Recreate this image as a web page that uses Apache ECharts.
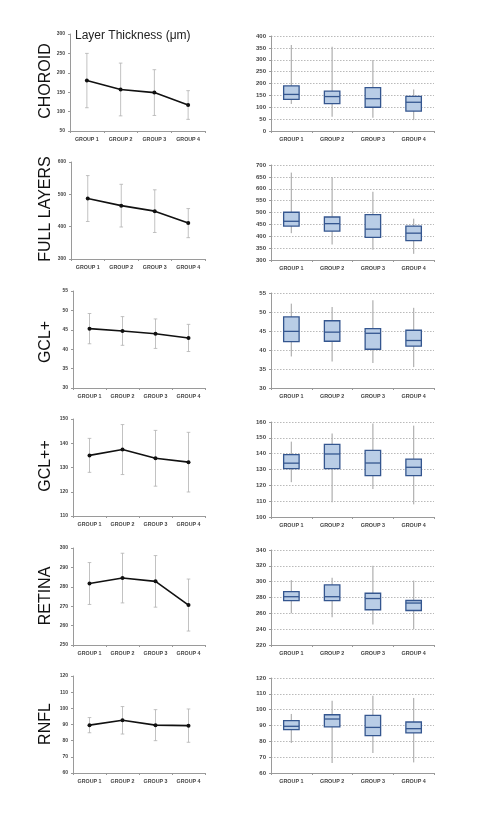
<!DOCTYPE html>
<html>
<head>
<meta charset="utf-8">
<title>Layer Thickness</title>
<script src="https://cdn.jsdelivr.net/npm/echarts@6.0.0/dist/echarts.min.js"></script>
<style>
	html, body { margin: 0; padding: 0; background: #fff; }
	#main { width: 484px; height: 814px; }
</style>
</head>
<body>
<div id="main"></div>
<script>
	var groups = ['GROUP 1', 'GROUP 2', 'GROUP 3', 'GROUP 4'];
	var layerNames = ['CHOROID', 'FULL LAYERS', 'GCL+', 'GCL++', 'RETINA', 'RNFL'];

//均值 ± 标准差 (左列)
	var choroidMean = [180, 157, 149, 117];
	var choroidSd = [70, 68, 59, 37];
	var fullMean = [487, 465, 448, 411];
	var fullSd = [71, 66, 66, 45];
	var gclMean = [45.3, 44.7, 44.0, 42.9];
	var gclSd = [3.9, 3.7, 3.8, 3.5];
	var gcl2Mean = [135, 137.4, 133.8, 132.2];
	var gcl2Sd = [7, 10.3, 11.5, 12.3];
	var retinaMean = [281.7, 284.5, 282.8, 270.6];
	var retinaSd = [10.8, 12.8, 13.3, 13.4];
	var rnflMean = [89.6, 92.6, 89.6, 89.3];
	var rnflSd = [4.7, 8.5, 9.6, 10.3];

//箱线图 [min, q1, median, q3, max] (右列)
	var choroidBox = [[114, 133, 154, 190, 362], [60, 115, 145, 168, 355], [56, 100, 136, 183, 299], [46, 84, 121, 146, 175]];
	var fullBox = [[413, 443, 463, 501, 668], [365, 422, 453, 481, 648], [343, 395, 430, 491, 587], [326, 382, 413, 443, 474]];
	var gclBox = [[38.3, 42.2, 44.9, 48.7, 52.2], [37, 42.3, 44.7, 47.7, 51.3], [36.6, 40.2, 44.4, 45.6, 53.1], [35.5, 41, 42.5, 45.2, 51.1]];
	var gcl2Box = [[122, 130.5, 134, 139.4, 147.6], [109.3, 130.5, 139.8, 145.9, 152.8], [117.7, 126.1, 134.1, 142.1, 159], [108, 126.1, 131.4, 136.6, 157.7]];
	var retinaBox = [[260, 276, 281, 287.5, 302], [255, 276, 281, 296, 305], [246, 264.5, 278.7, 285.4, 320], [240, 263.6, 273, 276.2, 301.4]];
	var rnflBox = [[79, 87.4, 89.5, 93.1, 97.3], [66.3, 89.1, 94.1, 96.8, 105.7], [72.6, 83.6, 88.8, 96.4, 108.8], [66.7, 85.3, 88, 92.2, 107.4]];

//坐标轴刻度
	var leftMin = [50, 300, 30, 110, 250, 60];
	var leftMax = [300, 600, 55, 150, 300, 120];
	var leftStep = [50, 100, 5, 10, 10, 10];
	var rightMin = [0, 300, 30, 100, 220, 60];
	var rightMax = [400, 700, 55, 160, 340, 120];
	var rightStep = [50, 50, 5, 10, 20, 10];

	var meanRows = [choroidMean, fullMean, gclMean, gcl2Mean, retinaMean, rnflMean];
	var sdRows = [choroidSd, fullSd, gclSd, gcl2Sd, retinaSd, rnflSd];
	var boxRows = [choroidBox, fullBox, gclBox, gcl2Box, retinaBox, rnflBox];

//布局
	var leftX = [70, 71, 73, 73, 73, 73];
	var leftTop = [34, 162, 291, 419, 548, 676];
	var rightTop = [36, 165, 293, 422, 550, 678];
	var labelY = [81, 209, 342, 466, 596, 724];

	var fontName = '"Liberation Sans", Arial, sans-serif';

	function catAxis(idx, size) {
		return {
			type: 'category',
			gridIndex: idx,
			data: groups,
			axisLine: { lineStyle: { color: '#9a9a9a', width: 1 } },
			axisTick: { show: true, length: 2, lineStyle: { color: '#9a9a9a' } },
			axisLabel: { interval: 0, margin: 6, fontSize: size, fontWeight: 'bold', color: '#444', fontFamily: fontName },
			splitLine: { show: false }
		};
	}

	function valAxis(idx, min, max, step, grid, size) {
		return {
			type: 'value',
			gridIndex: idx,
			min: min,
			max: max,
			interval: step,
			axisLine: { show: true, lineStyle: { color: '#9a9a9a', width: 1 } },
			axisTick: { show: true, length: 2, lineStyle: { color: '#9a9a9a' } },
			axisLabel: { margin: 5, fontSize: size, fontWeight: 'bold', color: '#444', fontFamily: fontName },
			splitLine: { show: grid, lineStyle: { color: '#9c9c9c', width: 0.7, type: [1.5, 1.5] } }
		};
	}

//误差线
	function errorItem(params, api) {
		var top = api.coord([api.value(0), api.value(2)]);
		var bot = api.coord([api.value(0), api.value(1)]);
		var cap = 1.8;
		var st = { stroke: '#b2b2b2', lineWidth: 0.8 };
		return {
			type: 'group',
			children: [
				{ type: 'line', shape: { x1: top[0], y1: top[1], x2: bot[0], y2: bot[1] }, style: st },
				{ type: 'line', shape: { x1: top[0] - cap, y1: top[1], x2: top[0] + cap, y2: top[1] }, style: st },
				{ type: 'line', shape: { x1: bot[0] - cap, y1: bot[1], x2: bot[0] + cap, y2: bot[1] }, style: st }
			]
		};
	}

//箱体
	function boxItem(params, api) {
		var x = api.value(0);
		var pMin = api.coord([x, api.value(1)]);
		var pQ1 = api.coord([x, api.value(2)]);
		var pMed = api.coord([x, api.value(3)]);
		var pQ3 = api.coord([x, api.value(4)]);
		var pMax = api.coord([x, api.value(5)]);
		var w = api.size([1, 0])[0] * 0.38;
		var cx = pMed[0];
		return {
			type: 'group',
			children: [
				{ type: 'line', shape: { x1: cx, y1: pMax[1], x2: cx, y2: pMin[1] }, style: { stroke: '#b5b5b5', lineWidth: 1.3 } },
				{ type: 'rect', shape: { x: cx - w / 2, y: pQ3[1], width: w, height: pQ1[1] - pQ3[1] }, style: { fill: '#b9cde6', stroke: '#34568f', lineWidth: 1.3 } },
				{ type: 'line', shape: { x1: cx - w / 2, y1: pMed[1], x2: cx + w / 2, y2: pMed[1] }, style: { stroke: '#34568f', lineWidth: 1.3 } }
			]
		};
	}

	var grids = [], xAxes = [], yAxes = [], series = [], texts = [];

	for (var i = 0; i < layerNames.length; i++) {
		var li = 2 * i, ri = 2 * i + 1;

		grids.push({ left: leftX[i], top: leftTop[i], width: 205 - leftX[i], height: 97 });
		xAxes.push(catAxis(li, 5.3));
		yAxes.push(valAxis(li, leftMin[i], leftMax[i], leftStep[i], false, 5));

		grids.push({ left: 271, top: rightTop[i], width: 163, height: 95 });
		xAxes.push(catAxis(ri, 5.4));
		yAxes.push(valAxis(ri, rightMin[i], rightMax[i], rightStep[i], true, 6));

		var errData = [];
		var boxData = [];
		for (var j = 0; j < groups.length; j++) {
			errData.push([j, meanRows[i][j] - sdRows[i][j], meanRows[i][j] + sdRows[i][j]]);
			var b = boxRows[i][j];
			boxData.push([j, b[0], b[1], b[2], b[3], b[4]]);
		}

		series.push({
			type: 'custom',
			xAxisIndex: li,
			yAxisIndex: li,
			renderItem: errorItem,
			encode: { x: 0, y: [1, 2] },
			data: errData,
			z: 2
		});
		series.push({
			type: 'line',
			xAxisIndex: li,
			yAxisIndex: li,
			data: meanRows[i],
			symbol: 'circle',
			symbolSize: 4,
			lineStyle: { color: '#111', width: 1.6 },
			itemStyle: { color: '#111' },
			z: 3
		});
		series.push({
			type: 'custom',
			xAxisIndex: ri,
			yAxisIndex: ri,
			renderItem: boxItem,
			encode: { x: 0, y: [1, 2, 3, 4, 5] },
			data: boxData,
			z: 2
		});

		texts.push({
			type: 'text',
			x: 46,
			y: labelY[i],
			rotation: Math.PI / 2,
			style: {
				text: layerNames[i],
				font: '16px ' + fontName,
				fill: '#111',
				textAlign: 'center',
				textVerticalAlign: 'middle'
			}
		});
	}

	var chart = echarts.init(document.getElementById('main'));
	chart.setOption({
		animation: false,
		backgroundColor: '#fff',
		title: {
			text: 'Layer Thickness (μm)',
			left: 75,
			top: 30,
			padding: 0,
			textStyle: { fontSize: 12, fontWeight: 'normal', color: '#222', fontFamily: fontName }
		},
		grid: grids,
		xAxis: xAxes,
		yAxis: yAxes,
		series: series,
		graphic: texts
	});
</script>
</body>
</html>
